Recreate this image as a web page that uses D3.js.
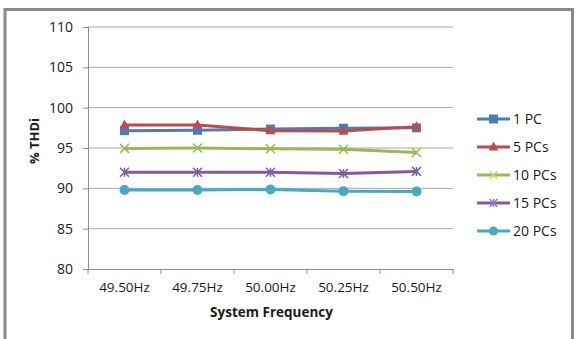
<!DOCTYPE html>
<html>
<head>
<meta charset="utf-8">
<script src="https://cdn.jsdelivr.net/npm/d3@7"></script>
<style>
  html, body { margin: 0; padding: 0; background: #fff; }
  svg { display: block; }
  text { font-family: "Open Sans", "Liberation Sans", sans-serif; fill: #1a1a1a; }
</style>
</head>
<body>
<svg id="chart" width="584" height="339"></svg>
<script>
// Chart data
const categories = ["49.50Hz", "49.75Hz", "50.00Hz", "50.25Hz", "50.50Hz"];
const seriesNames = ["1 PC", "5 PCs", "10 PCs", "15 PCs", "20 PCs"];
const pc1  = [97.15, 97.2, 97.35, 97.45, 97.5];
const pc5  = [97.85, 97.85, 97.15, 97.1, 97.65];
const pc10 = [94.95, 95.0, 94.9, 94.85, 94.45];
const pc15 = [92.0, 92.0, 92.0, 91.85, 92.1];
const pc20 = [89.8, 89.8, 89.85, 89.65, 89.6];
const yTicks = [80, 85, 90, 95, 100, 105, 110];
const colors = ["#4a7ebb", "#be4b48", "#98b954", "#7d5fa0", "#46aac5"];
const markers = ["square", "triangle", "x", "star", "circle"];

const series = [pc1, pc5, pc10, pc15, pc20].map((values, i) => ({
  name: seriesNames[i], values, color: colors[i], marker: markers[i]
}));

const svg = d3.select("#chart");

// Outer frame
svg.append("path")
  .attr("d", "M5,339 V9.5 H572.5 V339")
  .attr("fill", "none").attr("stroke", "#8a8a8a").attr("stroke-width", 3);

const plot = { left: 88, right: 453, top: 27, bottom: 269 };

const x = d3.scaleBand().domain(categories).range([plot.left, plot.right]).padding(0);
const y = d3.scaleLinear().domain([80, 110]).range([plot.bottom, plot.top]);

// Horizontal gridlines
svg.append("g").selectAll("line").data(yTicks.filter(t => t > 80)).join("line")
  .attr("x1", plot.left).attr("x2", plot.right)
  .attr("y1", d => y(d)).attr("y2", d => y(d))
  .attr("stroke", "#a6a6a6").attr("stroke-width", 1);

// Y axis
const yAxis = svg.append("g").attr("transform", `translate(${plot.left},0)`)
  .call(d3.axisLeft(y).tickValues(yTicks).tickSize(5).tickPadding(10));
yAxis.select(".domain").attr("stroke", "#8c8c8c");
yAxis.selectAll(".tick line").attr("stroke", "#8c8c8c");
yAxis.selectAll(".tick text").attr("font-size", 14).attr("fill", "#1a1a1a")
  .attr("font-family", "Open Sans, sans-serif");

// X axis with ticks at category boundaries
const xAxis = svg.append("g").attr("transform", `translate(0,${plot.bottom})`)
  .call(d3.axisBottom(x).tickSize(0).tickPadding(13));
xAxis.select(".domain").attr("stroke", "#8c8c8c");
xAxis.selectAll(".tick text").attr("font-size", 13.5).attr("fill", "#1a1a1a")
  .attr("font-family", "Open Sans, sans-serif");
const bounds = categories.map(c => x(c)).concat([x(categories[categories.length - 1]) + x.bandwidth()]);
xAxis.selectAll(".bound").data(bounds).join("line").attr("class", "bound")
  .attr("x1", d => d).attr("x2", d => d).attr("y1", 0).attr("y2", 5)
  .attr("stroke", "#8c8c8c");

// Axis titles
svg.append("text")
  .attr("x", (plot.left + plot.right) / 2 + 1).attr("y", 317)
  .attr("text-anchor", "middle").attr("font-size", 13.5).attr("font-weight", "bold")
  .text("System Frequency");
svg.append("text")
  .attr("transform", "translate(39,141) rotate(-90)")
  .attr("text-anchor", "middle").attr("font-size", 13).attr("font-weight", "bold")
  .text("% THDi");

// Marker drawing
function drawMarker(g, type, color, size) {
  const s = size;
  if (type === "square") {
    g.append("rect").attr("x", -s).attr("y", -s).attr("width", 2 * s).attr("height", 2 * s)
      .attr("fill", color);
  } else if (type === "triangle") {
    g.append("path").attr("d", `M0,${-s * 1.2} L${s * 1.1},${s * 0.8} L${-s * 1.1},${s * 0.8} Z`)
      .attr("fill", color);
  } else if (type === "x") {
    g.append("path").attr("d", `M${-s},${-s} L${s},${s} M${-s},${s} L${s},${-s}`)
      .attr("stroke", color).attr("stroke-width", 1.5).attr("fill", "none");
  } else if (type === "star") {
    g.append("path").attr("d", `M${-s},${-s} L${s},${s} M${-s},${s} L${s},${-s} M0,${-s} V${s}`)
      .attr("stroke", color).attr("stroke-width", 1.5).attr("fill", "none");
  } else if (type === "circle") {
    g.append("circle").attr("r", s).attr("fill", color);
  }
}

const line = d3.line()
  .x((d, i) => x(categories[i]) + x.bandwidth() / 2)
  .y(d => y(d));

// Series lines and markers
series.forEach(s => {
  svg.append("path").datum(s.values)
    .attr("d", line).attr("fill", "none")
    .attr("stroke", s.color).attr("stroke-width", 3).attr("stroke-linejoin", "round");
  s.values.forEach((v, i) => {
    const g = svg.append("g")
      .attr("transform", `translate(${x(categories[i]) + x.bandwidth() / 2},${y(v)})`);
    drawMarker(g, s.marker, s.color, s.marker === "circle" ? 5 : 4.5);
  });
});

// Legend
const legend = svg.append("g");
series.forEach((s, i) => {
  const ly = 119 + i * 28;
  const g = legend.append("g").attr("transform", `translate(477,${ly})`);
  g.append("line").attr("x1", 0).attr("x2", 33).attr("y1", 0).attr("y2", 0)
    .attr("stroke", s.color).attr("stroke-width", 3);
  const m = g.append("g").attr("transform", "translate(16.5,0)");
  if (s.marker === "x" || s.marker === "star") {
    drawMarker(m, s.marker, d3.color(s.color).brighter(0.6), 4);
  } else {
    drawMarker(m, s.marker, s.color, 4.5);
  }
  g.append("text").attr("x", 36).attr("y", 0).attr("dy", "0.35em")
    .attr("font-size", 14).text(s.name);
});
</script>
</body>
</html>
